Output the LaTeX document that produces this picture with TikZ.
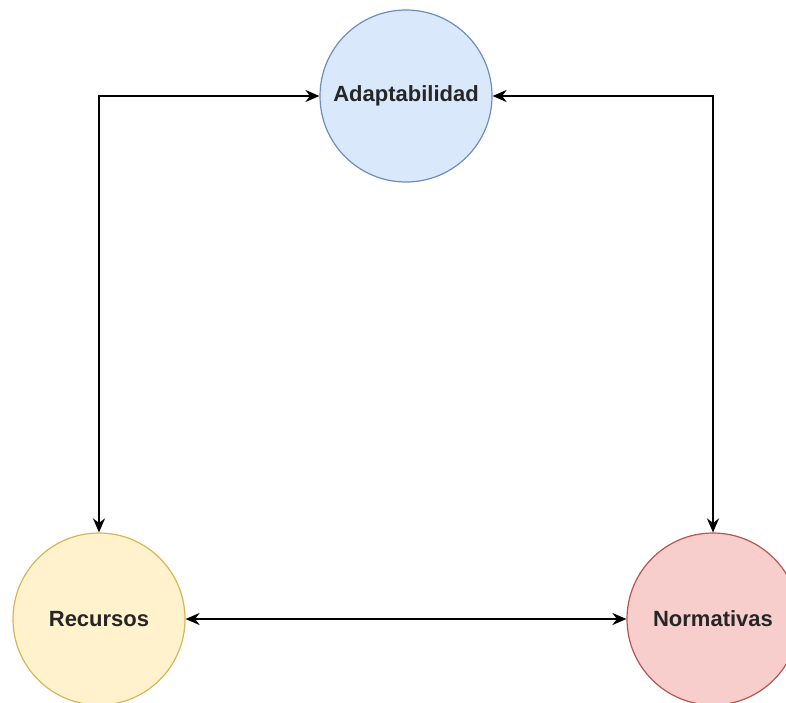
\documentclass[tikz,border=0pt]{standalone}
\usepackage{fontspec}
\setmainfont{Liberation Sans}
\usetikzlibrary{arrows.meta}

\definecolor{adafill}{HTML}{DAE8FC}
\definecolor{adaline}{HTML}{6C8EBF}
\definecolor{recfill}{HTML}{FFF2CC}
\definecolor{recline}{HTML}{D6B656}
\definecolor{norfill}{HTML}{F8CECC}
\definecolor{norline}{HTML}{B85450}

\begin{document}
\begin{tikzpicture}[x=1pt, y=-1pt,
    topic/.style={circle, minimum size=172pt, inner sep=0pt, line width=1.2pt,
      font=\fontsize{22}{26}\selectfont\bfseries, text=black!85},
    link/.style={line width=2pt, {Stealth[length=14pt,width=12pt]}-{Stealth[length=14pt,width=12pt]}}]
        \useasboundingbox (0,0) rectangle (786,702);
        \node[topic, fill=adafill, draw=adaline] (ada) at (406,96) {Adaptabilidad};
        \node[topic, fill=recfill, draw=recline] (rec) at (99,619) {Recursos};
        \node[topic, fill=norfill, draw=norline] (nor) at (713,619) {Normativas};
        \draw[link] (rec.north) |- (ada.west);
        \draw[link] (nor.north) |- (ada.east);
        \draw[link] (rec.east) -- (nor.west);
      \end{tikzpicture}
\end{document}
